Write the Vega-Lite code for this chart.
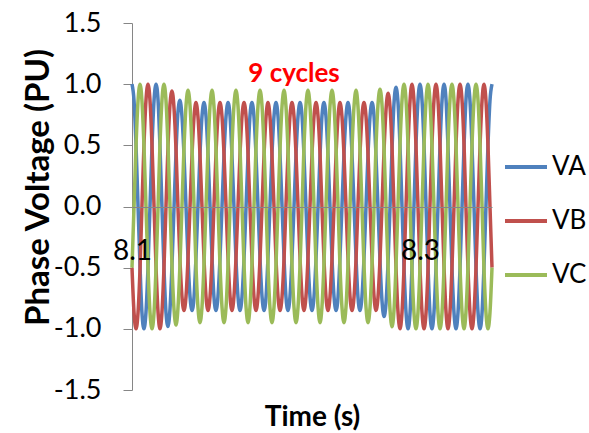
{
  "$schema": "https://vega.github.io/schema/vega-lite/v6.json",
  "width": 360,
  "height": 367,
  "autosize": {"type": "none"},
  "padding": {"left": 132, "top": 23, "right": 97, "bottom": 43},
  "background": "white",
  "config": {"view": {"stroke": null}, "font": "Lato"},
  "layer": [
    {
      "data": {"values": [
{"t":8.1,"VA":1,"VB":-0.5,"VC":-0.5},
{"t":8.1014,"VA":0.866,"VB":-0.866,"VC":0},
{"t":8.1028,"VA":0.5,"VB":-1,"VC":0.5},
{"t":8.1042,"VA":0,"VB":-0.866,"VC":0.866},
{"t":8.1056,"VA":-0.5,"VB":-0.5,"VC":1},
{"t":8.1069,"VA":-0.866,"VB":0,"VC":0.866},
{"t":8.1083,"VA":-1,"VB":0.5,"VC":0.5},
{"t":8.1097,"VA":-0.866,"VB":0.866,"VC":0},
{"t":8.1111,"VA":-0.5,"VB":1,"VC":-0.5},
{"t":8.1125,"VA":0,"VB":0.866,"VC":-0.866},
{"t":8.1139,"VA":0.5,"VB":0.5,"VC":-1},
{"t":8.1153,"VA":0.866,"VB":0,"VC":-0.866},
{"t":8.1167,"VA":1,"VB":-0.5,"VC":-0.5},
{"t":8.1181,"VA":0.866,"VB":-0.866,"VC":0},
{"t":8.1194,"VA":0.5,"VB":-1,"VC":0.5},
{"t":8.1208,"VA":0,"VB":-0.866,"VC":0.866},
{"t":8.1222,"VA":-0.5,"VB":-0.5,"VC":1},
{"t":8.1236,"VA":-0.866,"VB":0,"VC":0.866},
{"t":8.125,"VA":-0.981,"VB":0.491,"VC":0.497},
{"t":8.1264,"VA":-0.834,"VB":0.834,"VC":0},
{"t":8.1278,"VA":-0.472,"VB":0.944,"VC":-0.491},
{"t":8.1292,"VA":0,"VB":0.801,"VC":-0.844},
{"t":8.1306,"VA":0.453,"VB":0.453,"VC":-0.969},
{"t":8.1319,"VA":0.769,"VB":0,"VC":-0.834},
{"t":8.1333,"VA":0.869,"VB":-0.434,"VC":-0.478},
{"t":8.1347,"VA":0.736,"VB":-0.736,"VC":0},
{"t":8.1361,"VA":0.425,"VB":-0.85,"VC":0.475},
{"t":8.1375,"VA":0,"VB":-0.736,"VC":0.823},
{"t":8.1389,"VA":-0.425,"VB":-0.425,"VC":0.95},
{"t":8.1403,"VA":-0.736,"VB":0,"VC":0.823},
{"t":8.1417,"VA":-0.85,"VB":0.425,"VC":0.475},
{"t":8.1431,"VA":-0.736,"VB":0.736,"VC":0},
{"t":8.1444,"VA":-0.425,"VB":0.85,"VC":-0.475},
{"t":8.1458,"VA":0,"VB":0.736,"VC":-0.823},
{"t":8.1472,"VA":0.425,"VB":0.425,"VC":-0.95},
{"t":8.1486,"VA":0.736,"VB":0,"VC":-0.823},
{"t":8.15,"VA":0.85,"VB":-0.425,"VC":-0.475},
{"t":8.1514,"VA":0.736,"VB":-0.736,"VC":0},
{"t":8.1528,"VA":0.425,"VB":-0.85,"VC":0.475},
{"t":8.1542,"VA":0,"VB":-0.736,"VC":0.823},
{"t":8.1556,"VA":-0.425,"VB":-0.425,"VC":0.95},
{"t":8.1569,"VA":-0.736,"VB":0,"VC":0.823},
{"t":8.1583,"VA":-0.85,"VB":0.425,"VC":0.475},
{"t":8.1597,"VA":-0.736,"VB":0.736,"VC":0},
{"t":8.1611,"VA":-0.425,"VB":0.85,"VC":-0.475},
{"t":8.1625,"VA":0,"VB":0.736,"VC":-0.823},
{"t":8.1639,"VA":0.425,"VB":0.425,"VC":-0.95},
{"t":8.1653,"VA":0.736,"VB":0,"VC":-0.823},
{"t":8.1667,"VA":0.85,"VB":-0.425,"VC":-0.475},
{"t":8.1681,"VA":0.736,"VB":-0.736,"VC":0},
{"t":8.1694,"VA":0.425,"VB":-0.85,"VC":0.475},
{"t":8.1708,"VA":0,"VB":-0.736,"VC":0.823},
{"t":8.1722,"VA":-0.425,"VB":-0.425,"VC":0.95},
{"t":8.1736,"VA":-0.736,"VB":0,"VC":0.823},
{"t":8.175,"VA":-0.85,"VB":0.425,"VC":0.475},
{"t":8.1764,"VA":-0.736,"VB":0.736,"VC":0},
{"t":8.1778,"VA":-0.425,"VB":0.85,"VC":-0.475},
{"t":8.1792,"VA":0,"VB":0.736,"VC":-0.823},
{"t":8.1806,"VA":0.425,"VB":0.425,"VC":-0.95},
{"t":8.1819,"VA":0.736,"VB":0,"VC":-0.823},
{"t":8.1833,"VA":0.85,"VB":-0.425,"VC":-0.475},
{"t":8.1847,"VA":0.736,"VB":-0.736,"VC":0},
{"t":8.1861,"VA":0.425,"VB":-0.85,"VC":0.475},
{"t":8.1875,"VA":0,"VB":-0.736,"VC":0.823},
{"t":8.1889,"VA":-0.425,"VB":-0.425,"VC":0.95},
{"t":8.1903,"VA":-0.736,"VB":0,"VC":0.823},
{"t":8.1917,"VA":-0.85,"VB":0.425,"VC":0.475},
{"t":8.1931,"VA":-0.736,"VB":0.736,"VC":0},
{"t":8.1944,"VA":-0.425,"VB":0.85,"VC":-0.475},
{"t":8.1958,"VA":0,"VB":0.736,"VC":-0.823},
{"t":8.1972,"VA":0.425,"VB":0.425,"VC":-0.95},
{"t":8.1986,"VA":0.736,"VB":0,"VC":-0.823},
{"t":8.2,"VA":0.85,"VB":-0.425,"VC":-0.475},
{"t":8.2014,"VA":0.736,"VB":-0.736,"VC":0},
{"t":8.2028,"VA":0.425,"VB":-0.85,"VC":0.475},
{"t":8.2042,"VA":0,"VB":-0.736,"VC":0.823},
{"t":8.2056,"VA":-0.425,"VB":-0.425,"VC":0.95},
{"t":8.2069,"VA":-0.736,"VB":0,"VC":0.823},
{"t":8.2083,"VA":-0.85,"VB":0.425,"VC":0.475},
{"t":8.2097,"VA":-0.736,"VB":0.736,"VC":0},
{"t":8.2111,"VA":-0.425,"VB":0.85,"VC":-0.475},
{"t":8.2125,"VA":0,"VB":0.736,"VC":-0.823},
{"t":8.2139,"VA":0.425,"VB":0.425,"VC":-0.95},
{"t":8.2153,"VA":0.736,"VB":0,"VC":-0.823},
{"t":8.2167,"VA":0.85,"VB":-0.425,"VC":-0.475},
{"t":8.2181,"VA":0.736,"VB":-0.736,"VC":0},
{"t":8.2194,"VA":0.425,"VB":-0.85,"VC":0.475},
{"t":8.2208,"VA":0,"VB":-0.736,"VC":0.823},
{"t":8.2222,"VA":-0.425,"VB":-0.425,"VC":0.95},
{"t":8.2236,"VA":-0.736,"VB":0,"VC":0.823},
{"t":8.225,"VA":-0.85,"VB":0.425,"VC":0.475},
{"t":8.2264,"VA":-0.736,"VB":0.736,"VC":0},
{"t":8.2278,"VA":-0.425,"VB":0.85,"VC":-0.475},
{"t":8.2292,"VA":0,"VB":0.736,"VC":-0.823},
{"t":8.2306,"VA":0.425,"VB":0.425,"VC":-0.95},
{"t":8.2319,"VA":0.736,"VB":0,"VC":-0.823},
{"t":8.2333,"VA":0.85,"VB":-0.425,"VC":-0.475},
{"t":8.2347,"VA":0.736,"VB":-0.736,"VC":0},
{"t":8.2361,"VA":0.425,"VB":-0.85,"VC":0.475},
{"t":8.2375,"VA":0,"VB":-0.736,"VC":0.823},
{"t":8.2389,"VA":-0.425,"VB":-0.425,"VC":0.95},
{"t":8.2403,"VA":-0.736,"VB":0,"VC":0.823},
{"t":8.2417,"VA":-0.85,"VB":0.425,"VC":0.475},
{"t":8.2431,"VA":-0.736,"VB":0.736,"VC":0},
{"t":8.2444,"VA":-0.425,"VB":0.85,"VC":-0.475},
{"t":8.2458,"VA":0,"VB":0.736,"VC":-0.823},
{"t":8.2472,"VA":0.425,"VB":0.425,"VC":-0.95},
{"t":8.2486,"VA":0.736,"VB":0,"VC":-0.823},
{"t":8.25,"VA":0.85,"VB":-0.425,"VC":-0.475},
{"t":8.2514,"VA":0.736,"VB":-0.736,"VC":0},
{"t":8.2528,"VA":0.425,"VB":-0.85,"VC":0.475},
{"t":8.2542,"VA":0,"VB":-0.736,"VC":0.823},
{"t":8.2556,"VA":-0.425,"VB":-0.425,"VC":0.95},
{"t":8.2569,"VA":-0.736,"VB":0,"VC":0.823},
{"t":8.2583,"VA":-0.85,"VB":0.425,"VC":0.475},
{"t":8.2597,"VA":-0.736,"VB":0.736,"VC":0},
{"t":8.2611,"VA":-0.425,"VB":0.85,"VC":-0.475},
{"t":8.2625,"VA":0,"VB":0.736,"VC":-0.823},
{"t":8.2639,"VA":0.425,"VB":0.425,"VC":-0.95},
{"t":8.2653,"VA":0.736,"VB":0,"VC":-0.823},
{"t":8.2667,"VA":0.85,"VB":-0.425,"VC":-0.475},
{"t":8.2681,"VA":0.736,"VB":-0.736,"VC":0},
{"t":8.2694,"VA":0.425,"VB":-0.85,"VC":0.475},
{"t":8.2708,"VA":0,"VB":-0.747,"VC":0.826},
{"t":8.2722,"VA":-0.438,"VB":-0.438,"VC":0.958},
{"t":8.2736,"VA":-0.769,"VB":0,"VC":0.834},
{"t":8.275,"VA":-0.9,"VB":0.45,"VC":0.483},
{"t":8.2764,"VA":-0.79,"VB":0.79,"VC":0},
{"t":8.2778,"VA":-0.463,"VB":0.925,"VC":-0.488},
{"t":8.2792,"VA":0,"VB":0.812,"VC":-0.848},
{"t":8.2806,"VA":0.475,"VB":0.475,"VC":-0.983},
{"t":8.2819,"VA":0.834,"VB":0,"VC":-0.855},
{"t":8.2833,"VA":0.975,"VB":-0.488,"VC":-0.496},
{"t":8.2847,"VA":0.855,"VB":-0.855,"VC":0},
{"t":8.2861,"VA":0.5,"VB":-1,"VC":0.5},
{"t":8.2875,"VA":0,"VB":-0.866,"VC":0.866},
{"t":8.2889,"VA":-0.5,"VB":-0.5,"VC":1},
{"t":8.2903,"VA":-0.866,"VB":0,"VC":0.866},
{"t":8.2917,"VA":-1,"VB":0.5,"VC":0.5},
{"t":8.2931,"VA":-0.866,"VB":0.866,"VC":0},
{"t":8.2944,"VA":-0.5,"VB":1,"VC":-0.5},
{"t":8.2958,"VA":0,"VB":0.866,"VC":-0.866},
{"t":8.2972,"VA":0.5,"VB":0.5,"VC":-1},
{"t":8.2986,"VA":0.866,"VB":0,"VC":-0.866},
{"t":8.3,"VA":1,"VB":-0.5,"VC":-0.5},
{"t":8.3014,"VA":0.866,"VB":-0.866,"VC":0},
{"t":8.3028,"VA":0.5,"VB":-1,"VC":0.5},
{"t":8.3042,"VA":0,"VB":-0.866,"VC":0.866},
{"t":8.3056,"VA":-0.5,"VB":-0.5,"VC":1},
{"t":8.3069,"VA":-0.866,"VB":0,"VC":0.866},
{"t":8.3083,"VA":-1,"VB":0.5,"VC":0.5},
{"t":8.3097,"VA":-0.866,"VB":0.866,"VC":0},
{"t":8.3111,"VA":-0.5,"VB":1,"VC":-0.5},
{"t":8.3125,"VA":0,"VB":0.866,"VC":-0.866},
{"t":8.3139,"VA":0.5,"VB":0.5,"VC":-1},
{"t":8.3153,"VA":0.866,"VB":0,"VC":-0.866},
{"t":8.3167,"VA":1,"VB":-0.5,"VC":-0.5},
{"t":8.3181,"VA":0.866,"VB":-0.866,"VC":0},
{"t":8.3194,"VA":0.5,"VB":-1,"VC":0.5},
{"t":8.3208,"VA":0,"VB":-0.866,"VC":0.866},
{"t":8.3222,"VA":-0.5,"VB":-0.5,"VC":1},
{"t":8.3236,"VA":-0.866,"VB":0,"VC":0.866},
{"t":8.325,"VA":-1,"VB":0.5,"VC":0.5},
{"t":8.3264,"VA":-0.866,"VB":0.866,"VC":0},
{"t":8.3278,"VA":-0.5,"VB":1,"VC":-0.5},
{"t":8.3292,"VA":0,"VB":0.866,"VC":-0.866},
{"t":8.3306,"VA":0.5,"VB":0.5,"VC":-1},
{"t":8.3319,"VA":0.866,"VB":0,"VC":-0.866},
{"t":8.3333,"VA":1,"VB":-0.5,"VC":-0.5},
{"t":8.3347,"VA":0.866,"VB":-0.866,"VC":0},
{"t":8.3361,"VA":0.5,"VB":-1,"VC":0.5},
{"t":8.3375,"VA":0,"VB":-0.866,"VC":0.866},
{"t":8.3389,"VA":-0.5,"VB":-0.5,"VC":1},
{"t":8.3403,"VA":-0.866,"VB":0,"VC":0.866},
{"t":8.3417,"VA":-1,"VB":0.5,"VC":0.5},
{"t":8.3431,"VA":-0.866,"VB":0.866,"VC":0},
{"t":8.3444,"VA":-0.5,"VB":1,"VC":-0.5},
{"t":8.3458,"VA":0,"VB":0.866,"VC":-0.866},
{"t":8.3472,"VA":0.5,"VB":0.5,"VC":-1},
{"t":8.3486,"VA":0.866,"VB":0,"VC":-0.866},
{"t":8.35,"VA":1,"VB":-0.5,"VC":-0.5}
      ]},
      "transform": [{"fold": ["VA", "VB", "VC"], "as": ["series", "v"]}],
      "mark": {"type": "line", "interpolate": "monotone", "strokeWidth": 3.5},
      "encoding": {
        "x": {
          "field": "t", "type": "quantitative",
          "scale": {"domain": [8.1, 8.35], "nice": false, "zero": false},
          "axis": {
            "values": [8.1, 8.3], "format": ".1f", "grid": false, "zindex": 1,
            "offset": -183, "ticks": false, "tickSize": 0, "labelFlush": false,
            "domainColor": "#868686", "domainWidth": 1,
            "labelFontSize": 28, "labelColor": "#000000", "labelPadding": 30,
            "labelFont": "Lato",
            "title": "Time (s)", "titleFontSize": 28, "titleFontWeight": "bold",
            "titleColor": "#000000", "titleY": 218, "titleBaseline": "alphabetic",
            "titleFont": "Lato"
          }
        },
        "y": {
          "field": "v", "type": "quantitative",
          "scale": {"domain": [-1.5, 1.5], "nice": false},
          "axis": {
            "values": [-1.5, -1, -0.5, 0, 0.5, 1, 1.5], "grid": false,
            "labelExpr": "datum.value < 0 ? '-' + format(-datum.value, '.1f') : format(datum.value, '.1f')",
            "tickSize": 9, "tickColor": "#868686", "domainColor": "#868686",
            "labelFontSize": 27, "labelColor": "#000000", "labelPadding": 22,
            "labelFont": "Lato",
            "title": "Phase Voltage (PU)", "titleFontSize": 33, "titleFontWeight": "bold",
            "titleColor": "#000000", "titleX": -94, "titleY": 164,
            "titleBaseline": "middle", "titleFont": "Lato"
          }
        },
        "color": {
          "field": "series", "type": "nominal",
          "scale": {"domain": ["VA", "VB", "VC"], "range": ["#4F81BD", "#C0504D", "#9BBB59"]},
          "legend": {
            "title": null, "orient": "none", "legendX": 371, "legendY": 121,
            "symbolType": "stroke", "symbolSize": 1764, "symbolStrokeWidth": 4,
            "labelFontSize": 26, "labelColor": "#000000", "labelOffset": 3,
            "rowPadding": 18, "labelFont": "Lato"
          }
        }
      }
    },
    {
      "data": {"values": [{"t": 8.2125, "v": 1.08, "label": "9 cycles"}]},
      "mark": {"type": "text", "color": "#FF0000", "fontWeight": "bold", "fontSize": 26, "font": "Lato", "baseline": "middle", "align": "center"},
      "encoding": {
        "x": {"field": "t", "type": "quantitative"},
        "y": {"field": "v", "type": "quantitative"},
        "text": {"field": "label"}
      }
    }
  ]
}
